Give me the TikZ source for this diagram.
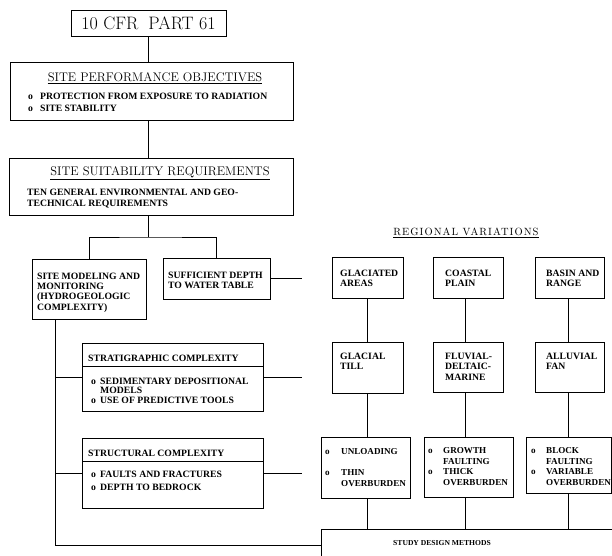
\documentclass[tikz,border=0pt]{standalone}
\usepackage{fontspec}
\newfontfamily\bodyfont{Liberation Serif}
\newfontfamily\spacedfont[Extension=.otf, LetterSpace=10]{lmroman10-regular}
\newcommand\bu[1]{\makebox[#1][l]{o}}
\tikzset{
  box/.style={draw, line width=1pt, anchor=north west, inner sep=0pt, outer sep=0pt},
  link/.style={line width=1pt},
  body/.style={anchor=north west, inner sep=0pt, align=left, font=\bodyfont\bfseries\fontsize{9.7}{#1}\selectfont},
  small body/.style={anchor=north west, inner sep=0pt, align=left, font=\bodyfont\bfseries\fontsize{9.1}{#1}\selectfont},
  head/.style={inner sep=0pt, font=\fontsize{#1}{#1}\selectfont},
  ttl/.style={inner sep=0pt, font=\fontsize{18}{18}\selectfont},
  uline/.style={line width=0.8pt},
}
\begin{document}
\begin{tikzpicture}[x=1pt,y=-1pt]
\useasboundingbox (0,0) rectangle (612,555);
% boxes
\node[box, minimum width=155pt, minimum height=26pt] (cfr) at (71,10) {};
\node[box, minimum width=283pt, minimum height=58pt] (spo) at (10,62) {};
\node[box, minimum width=284pt, minimum height=57pt] (ssr) at (9,158) {};
\node[box, minimum width=114pt, minimum height=60pt] (smm) at (32,259) {};
\node[box, minimum width=107pt, minimum height=41pt] (sdw) at (163,258) {};
\node[box, minimum width=181pt, minimum height=68pt] (strat) at (82,343) {};
\node[box, minimum width=181pt, minimum height=70pt] (struct) at (82,438) {};
\node[box, minimum width=320pt, minimum height=32pt] (study) at (321,529) {};
\node[box, minimum width=71pt, minimum height=41pt] (glac) at (332,257) {};
\node[box, minimum width=70pt, minimum height=41pt] (coast) at (433,257) {};
\node[box, minimum width=69pt, minimum height=41pt] (basin) at (535,257) {};
\node[box, minimum width=71pt, minimum height=51pt] (till) at (332,342) {};
\node[box, minimum width=70pt, minimum height=50pt] (fluv) at (433,342) {};
\node[box, minimum width=69pt, minimum height=50pt] (alluv) at (535,342) {};
\node[box, minimum width=89pt, minimum height=61pt] (unl) at (321,437) {};
\node[box, minimum width=89pt, minimum height=60pt] (grow) at (424,437) {};
\node[box, minimum width=85pt, minimum height=56pt] (block) at (526,437) {};
% dividers
\draw[link] ([yshift=-23pt]strat.north west) -- ([yshift=-23pt]strat.north east);
\draw[link] ([yshift=-23pt]struct.north west) -- ([yshift=-23pt]struct.north east);
% texts
\node[ttl] (cfrt) at (cfr.center) {10 CFR\hspace{0.55em}PART 61};
\node[head=12.5] (spoh) at (155,77) {SITE PERFORMANCE OBJECTIVES};
\draw[uline] ([yshift=-2pt]spoh.south west) -- ([yshift=-2pt]spoh.south east);
\node[body=12] (spot) at (28,92.8) {\bu{12pt}PROTECTION FROM EXPOSURE TO RADIATION\\\bu{12pt}SITE STABILITY};
\node[head=12.5] (ssrh) at (160,172) {SITE SUITABILITY REQUIREMENTS};
\draw[uline] ([yshift=-2pt]ssrh.south west) -- ([yshift=-2pt]ssrh.south east);
\node[body=10.6] (ssrt) at (27,188.8) {TEN GENERAL ENVIRONMENTAL AND GEO-\\TECHNICAL REQUIREMENTS};
\node[body=10.3] (smmt) at (37,272.5) {SITE MODELING AND\\MONITORING\\(HYDROGEOLOGIC\\COMPLEXITY)};
\node[body=10.5] (sdwt) at (168,271.5) {SUFFICIENT DEPTH\\TO WATER TABLE};
\node[body=10] (strath) at (88,355.1) {STRATIGRAPHIC COMPLEXITY};
\node[body=9.7] (stratt) at (91,377.5) {\bu{9pt}SEDIMENTARY DEPOSITIONAL\\\hspace*{9pt}MODELS\\\bu{9pt}USE OF PREDICTIVE TOOLS};
\node[body=10] (structh) at (88,449.5) {STRUCTURAL COMPLEXITY};
\node[body=12.7] (structt) at (91,470.8) {\bu{9pt}FAULTS AND FRACTURES\\\bu{9pt}DEPTH TO BEDROCK};
\node[inner sep=0pt, font=\spacedfont\fontsize{10.5}{10.5}\selectfont] (regh) at (466,231.5) {REGIONAL VARIATIONS};
\draw[uline] ([yshift=-1.5pt]regh.south west) -- ([yshift=-1.5pt]regh.south east);
\node[body=10] (glact) at (340,270) {GLACIATED\\AREAS};
\node[body=10] (coastt) at (445,270) {COASTAL\\PLAIN};
\node[body=10] (basint) at (546,270) {BASIN AND\\RANGE};
\node[body=10.3] (tillt) at (340,352.8) {GLACIAL\\TILL};
\node[body=10.3] (fluvt) at (445,352.8) {FLUVIAL-\\DELTAIC-\\MARINE};
\node[body=10.3] (alluvt) at (546,352.8) {ALLUVIAL\\FAN};
\node[small body=10.5] (unlt) at (325,448.5) {\bu{16pt}UNLOADING\\[10.5pt]\bu{16pt}THIN\\\hspace*{16pt}OVERBURDEN};
\node[small body=10.8] (growt) at (428,447) {\bu{15pt}GROWTH\\\hspace*{15pt}FAULTING\\\bu{15pt}THICK\\\hspace*{15pt}OVERBURDEN};
\node[small body=10.8] (blockt) at (531,447) {\bu{15pt}BLOCK\\\hspace*{15pt}FAULTING\\\bu{15pt}VARIABLE\\\hspace*{15pt}OVERBURDEN};
\node[inner sep=0pt, font=\bodyfont\bfseries\fontsize{7.6}{8}\selectfont] (studyt) at (442,543) {STUDY DESIGN METHODS};
% helper coordinates
\coordinate (sp) at (148.5,237);
\coordinate (spine) at (55,0);
\coordinate (e2) at (302,0);
\coordinate (c1) at (367.5,0);
\coordinate (c2) at (465,0);
\coordinate (c3) at (568,0);
% connectors
\draw[link] (cfr.south) -- (cfr.south |- spo.north);
\draw[link] (spo.south -| cfr.south) -- (ssr.north -| cfr.south);
\draw[link] (ssr.south -| cfr.south) -- (sp);
\draw[link] (smm.north) |- (sp) -| (sdw.north);
\draw[link] (smm.south -| spine) |- (study.west);
\draw[link] (strat.west) -- (strat.west -| spine);
\draw[link] (struct.west) -- (struct.west -| spine);
\draw[link] (sdw.east) -- (sdw.east -| e2);
\draw[link] (strat.east) -- (strat.east -| e2);
\draw[link] (struct.east) -- (struct.east -| e2);
\draw[link] (glac.south -| c1) -- (till.north -| c1);
\draw[link] (till.south -| c1) -- (unl.north -| c1);
\draw[link] (unl.south -| c1) -- (study.north -| c1);
\draw[link] (coast.south -| c2) -- (fluv.north -| c2);
\draw[link] (fluv.south -| c2) -- (grow.north -| c2);
\draw[link] (grow.south -| c2) -- (study.north -| c2);
\draw[link] (basin.south -| c3) -- (alluv.north -| c3);
\draw[link] (alluv.south -| c3) -- (block.north -| c3);
\draw[link] (block.south -| c3) -- (study.north -| c3);
\end{tikzpicture}
\end{document}
